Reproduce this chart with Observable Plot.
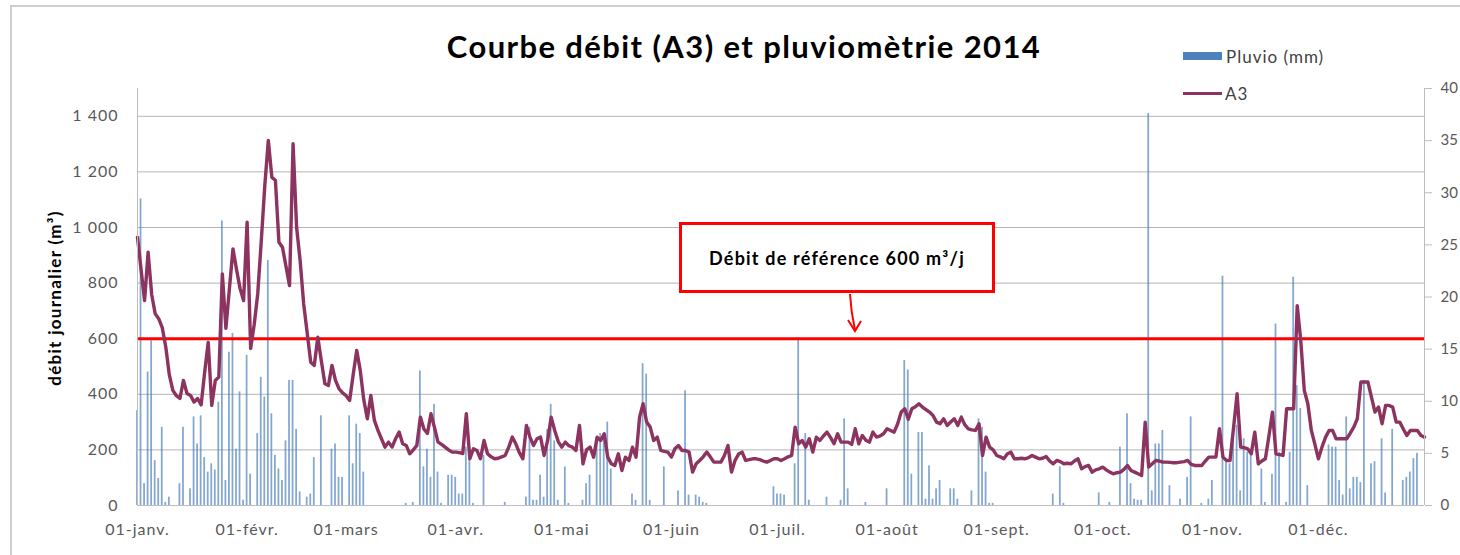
<!DOCTYPE html>
<html><head><meta charset="utf-8">
<script src="https://cdn.jsdelivr.net/npm/d3@7"></script>
<script src="https://cdn.jsdelivr.net/npm/@observablehq/plot@0.6"></script>
<style>
html,body{margin:0;padding:0;background:#fff;}
#wrap{position:relative;width:1460px;height:555px;overflow:hidden;font-family:Lato,"Open Sans",sans-serif;}
#chart{position:absolute;left:0;top:0;}
#chart svg text{letter-spacing:1px;}
#chart svg g[text-anchor="start"] text{letter-spacing:0;}
.ov{position:absolute;white-space:nowrap;line-height:1;}
#border{position:absolute;left:10px;top:5px;width:1470px;height:570px;border-left:2px solid #cfcfcf;border-top:2px solid #cfcfcf;}
#title{left:744px;top:31px;transform:translateX(-50%);font-size:31px;letter-spacing:1.4px;font-weight:700;color:#000;}
#ylab{left:54px;top:298px;transform:translate(-50%,-50%) rotate(-90deg);font-size:17px;letter-spacing:1.3px;font-weight:700;color:#000;}
.sw{position:absolute;}
.lt{font-size:17px;letter-spacing:1px;color:#404040;}
#box{position:absolute;left:679px;top:222px;width:316px;height:71px;box-sizing:border-box;border:3px solid #ff0000;background:#fff;display:flex;align-items:center;justify-content:center;font-size:18px;letter-spacing:1.2px;font-weight:700;color:#000;}
#ann{position:absolute;left:0;top:0;pointer-events:none;}
</style></head><body>
<div id="wrap">
  <div id="border"></div>
  <div id="chart"></div>
  <div id="title" class="ov">Courbe débit (A3) et pluviomètrie 2014</div>
  <div id="ylab" class="ov">débit journalier (m³)</div>
  <div class="sw" style="left:1183px;top:52px;width:39px;height:8px;background:#4F81BD;"></div>
  <div class="ov lt" style="left:1226px;top:48px;">Pluvio (mm)</div>
  <div class="sw" style="left:1183px;top:92px;width:39px;height:3px;background:#8C335F;"></div>
  <div class="ov lt" style="left:1225px;top:85px;">A3</div>
  <div id="box">Débit de référence 600 m³/j</div>
  <svg id="ann" width="1460" height="555"><path d="M850,294 Q851,312 855,330" fill="none" stroke="#ff0000" stroke-width="2"/><path d="M848,320 L855,331 L861,321" fill="none" stroke="#ff0000" stroke-width="2"/></svg>
</div>
<script>
// ---- Data ----
const startDate = new Date(Date.UTC(2014, 0, 1));
const endDate = new Date(Date.UTC(2015, 0, 1));
const monthLabels = ["01-janv.","01-févr.","01-mars","01-avr.","01-mai","01-juin","01-juil.","01-août","01-sept.","01-oct.","01-nov.","01-déc."];
const leftTicks = [0, 200, 400, 600, 800, 1000, 1200, 1400];
const rightTicks = [0, 5, 10, 15, 20, 25, 30, 35, 40];
const leftMax = 1500, rightMax = 40;
const referenceFlow = 600;

// Débit journalier A3 (m3), one value per day of 2014
const a3 = [
965,850,737,911,760,690,672,640,570,470,
414,395,385,450,403,396,372,385,362,480,
587,360,450,462,833,637,780,923,850,781,
737,1019,565,650,761,950,1150,1313,1180,1170,
947,929,860,791,1301,1000,881,725,620,515,
504,605,520,438,432,504,450,420,405,395,
378,470,558,486,380,312,396,306,270,240,
210,228,210,240,264,222,216,186,200,216,
318,275,259,330,280,228,220,210,200,192,
192,190,187,330,168,204,198,168,234,186,
175,168,170,175,180,210,246,222,190,168,
288,246,216,240,246,180,234,318,270,230,
210,228,215,210,198,288,150,200,210,174,
246,234,258,174,150,144,186,126,174,162,
210,174,318,366,300,282,234,246,198,195,
192,174,204,216,198,198,192,120,150,162,
175,192,175,156,156,156,180,216,120,162,
185,192,162,165,168,168,165,160,156,162,
168,168,162,168,175,180,282,222,234,210,
240,192,246,234,250,264,245,222,258,228,
228,228,220,276,222,252,235,228,264,246,
250,258,276,270,264,294,336,348,310,348,
355,366,354,345,336,324,300,294,312,288,
300,312,288,318,290,276,272,270,294,180,
246,210,200,180,175,168,185,192,168,168,
170,168,172,180,174,168,170,176,160,150,
162,158,150,152,150,160,168,132,140,144,
120,128,132,138,128,120,114,118,120,130,
144,126,120,114,108,300,138,150,162,160,
156,156,155,154,154,156,158,162,148,144,
144,144,160,174,174,174,276,174,162,162,
280,402,210,208,204,186,264,150,160,168,
250,336,186,183,180,348,348,348,719,594,
414,366,270,220,168,210,245,270,270,240,
240,240,240,260,282,312,444,444,444,390,
336,354,294,360,360,354,300,300,275,252,
270,270,270,252,246
];

// Pluviométrie (mm), one value per day of 2014
const pluvio = [
9.1,29.4,2.1,12.8,15.8,4.3,2.6,7.5,0.3,0.8,
0,0,2.1,7.5,0,1.6,8.5,5.9,8.6,4.6,
3.2,4,3.4,9.9,27.3,2.4,14.7,16.5,5.4,10.9,
0.5,14.4,3,0,6.9,12.3,10.4,23.5,8.8,4.8,
3.5,2.4,6.2,12,12,7.3,1.3,0,0.8,1.1,
4.6,0,8.6,0,0,5.4,5.9,2.7,2.7,0,
8.6,4,7.8,6.9,3.2,0,0,0,0,0,
0,0,0,0,0,0,0.2,0,0.3,0,
12.9,3.7,5.4,2.7,9.7,3.2,0.2,0,2.9,2.9,
2.7,1.1,1.1,5.6,4.3,0.2,0,0,4.8,0,
0,0,0,0,0.3,0,0,0,0,0,
0.8,7.5,0.5,0.5,2.9,0.8,7.3,9.7,6.2,0.5,
0,3.7,0.2,0,0,0,0.5,2.1,2.9,0,
6.4,6.9,6.9,8,3.5,0,0,0,0,0,
1.1,0.5,0,13.6,12.6,0.5,0,0,0,3.7,
0,0,0,1.4,0,11,1,0,1,0.8,
0.3,0.2,0,0,0,0,0,0,0,0,
0,0,0,0,0,0,0,0,0,0,
1.8,1.1,1.1,1,0,0,4,16.1,0,6.9,
0.5,0,0,0,0,0.8,0,0,0,0.5,
8.3,1.6,0,0,0,0,0.3,0,0,0,
0,0,1.6,0,0,0,0,13.9,13,3,
0,7,7,0.6,3.8,0.6,1.6,2.4,0,0,
1.6,1.6,0.6,0,0,0,1.4,0,8.3,7.5,
3.2,0.2,0.2,0,0,0,0,0,0,0,
0,0,0,0,0,0,0,0,0,1.1,
0,3.7,0.2,0,0,0,0,0,0,0,
0,0,1.2,0,0,0.3,0,0,5.6,0,
8.8,2.1,0.6,0.5,0.5,0,37.6,1.4,5.9,5.9,
7.2,0,1.9,0,0,0.6,0,2.7,8.5,0,
0,0.2,0,0.6,2.4,0,0,22,4.3,4,
7.5,7.7,1.4,6.4,5.1,4.8,0,0,3.5,0.3,
0,3,17.4,5.1,0,0.3,5.1,21.9,11.5,9.3,
0,1.9,0,0,0,0,0,5.8,5.6,5.6,
2.4,1,8.5,1.6,2.7,2.7,2.2,12,0,4,
4.2,0,6.4,1.2,0,7.3,0,0,2.4,2.7,
3.2,4.5,5,0,0
];

// ---- Build ----
const dates = d3.utcDays(startDate, endDate);
const data = dates.map((date, i) => ({date, a3: a3[i], pluvio: pluvio[i]}));
const K = leftMax / rightMax;
const monthStarts = d3.utcMonths(startDate, endDate);
const lastDate = dates[dates.length - 1];
const frNum = v => d3.format(",")(v).replace(/,/g, " ");

const chart = Plot.plot({
  width: 1460,
  height: 555,
  marginLeft: 137,
  marginRight: 36,
  marginTop: 88,
  marginBottom: 50,
  style: {fontFamily: "Lato, 'Open Sans', sans-serif", fontSize: "16px", color: "#595959", background: "transparent", overflow: "visible"},
  x: {type: "utc", domain: [startDate, lastDate]},
  y: {domain: [0, leftMax]},
  marks: [
    Plot.gridY(leftTicks.slice(1), {stroke: "#b4b4b4", strokeOpacity: 1}),
    Plot.rectY(data, {
      x1: d => d3.utcHour.offset(d.date, -6),
      x2: d => d3.utcHour.offset(d.date, 6),
      y1: 0,
      y2: d => d.pluvio * K,
      fill: "#4F81BD",
      fillOpacity: 0.7
    }),
    Plot.ruleY([referenceFlow], {stroke: "#ff0000", strokeWidth: 3}),
    Plot.line(data, {x: "date", y: "a3", stroke: "#8C335F", strokeWidth: 3.4, strokeLinejoin: "round"}),
    Plot.ruleY([0], {stroke: "#bdbdbd"}),
    Plot.ruleX([startDate, lastDate], {y1: 0, y2: leftMax, stroke: "#bdbdbd"}),
    Plot.axisY(leftTicks, {anchor: "left", tickSize: 0, tickPadding: 19, tickFormat: frNum, label: null}),
    Plot.axisY(rightTicks.map(v => v * K), {anchor: "right", tickSize: 7, tickPadding: 9, fontSize: 15, stroke: "#bdbdbd", tickFormat: v => String(Math.round(v / K)), label: null}),
    Plot.axisX(monthStarts, {anchor: "bottom", tickSize: 0, tickPadding: 18, tickFormat: d => monthLabels[d.getUTCMonth()], label: null})
  ]
});
document.getElementById("chart").appendChild(chart);
</script>
</body></html>
